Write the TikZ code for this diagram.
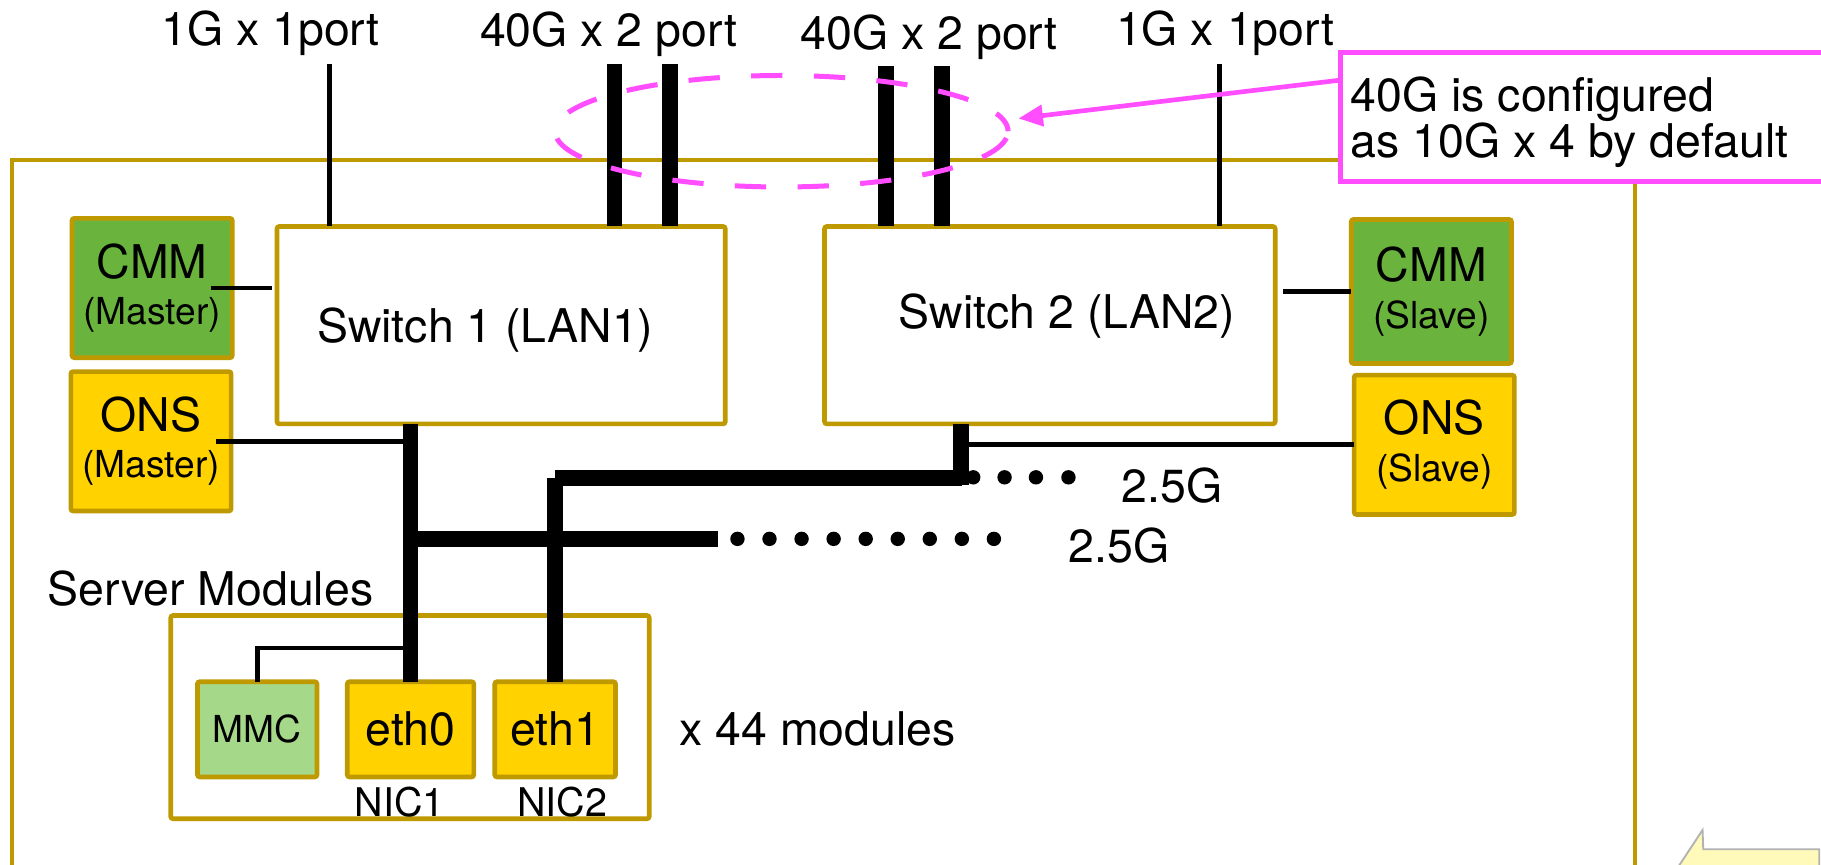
\documentclass[tikz,border=0pt]{standalone}
\usepackage{fontspec}
\setmainfont{TeX Gyre Heros}
\usetikzlibrary{shapes.geometric,arrows.meta}
\definecolor{gold}{RGB}{191,153,0}
\definecolor{cmmgreen}{RGB}{106,180,62}
\definecolor{onsyellow}{RGB}{255,210,0}
\definecolor{mmcgreen}{RGB}{166,216,138}
\definecolor{notepink}{RGB}{255,77,255}
\definecolor{paleyellow}{RGB}{255,250,185}
\begin{document}
\begin{tikzpicture}[x=0.5pt,y=-0.5pt,
  every node/.style={inner sep=0pt,outer sep=0pt},
  bigtxt/.style={font=\fontsize{20}{20}\selectfont},
  goldbox/.style={draw=gold,line width=2pt,rounded corners=1pt,align=center,bigtxt},
  switchbox/.style={goldbox,fill=white,minimum width=193pt,minimum height=85pt},
  cmmbox/.style={goldbox,fill=cmmgreen,minimum width=69pt,minimum height=60pt},
  onsbox/.style={goldbox,fill=onsyellow,minimum width=69pt,minimum height=60pt},
  nicbox/.style={goldbox,fill=onsyellow,minimum height=41pt},
  thinln/.style={line width=2.1pt},
  thickln/.style={line width=6.7pt},
  pinkln/.style={draw=notepink,line width=2.15pt},
]
\useasboundingbox (0,0) rectangle (1568,744);
\clip (0,0) rectangle (1568,744);
\fill[white] (0,0) rectangle (1568,744);

% outer chassis box
\draw[gold,line width=1.8pt] (10,800) -- (10,138) -- (1408,138) -- (1408,800);

% top labels
\node[bigtxt,anchor=base] (l1) at (233,39) {1G x 1port};
\node[bigtxt,anchor=base] (l2) at (524,40) {40G x 2 port};
\node[bigtxt,anchor=base] (l3) at (800,43) {40G x 2 port};
\node[bigtxt,anchor=base] (l4) at (1055,39.5) {1G x 1port};

% switches
\node[switchbox] (sw1) at (431.5,280) {};
\node[switchbox,minimum width=194pt] (sw2) at (904,280) {};
\node[bigtxt,anchor=base west] (sw1t) at (273,295) {Switch 1 (LAN1)};
\node[bigtxt,anchor=base west] (sw2t) at (774,283) {Switch 2 (LAN2)};

% CMM / ONS
\node[cmmbox] (cmm1) at (131,248) {CMM\\{\fontsize{16}{20}\selectfont (Master)}};
\node[onsbox] (ons1) at (130,380) {ONS\\{\fontsize{16}{20}\selectfont (Master)}};
\node[cmmbox,minimum height=62pt] (cmm2) at (1232.5,251) {CMM\\{\fontsize{16}{20}\selectfont (Slave)}};
\node[onsbox] (ons2) at (1235,383) {ONS\\{\fontsize{16}{20}\selectfont (Slave)}};

% server modules
\node[goldbox,minimum width=206pt,minimum height=87.5pt] (srv) at (353,617.5) {};
\node[bigtxt,anchor=base west] (srvt) at (41,521) {Server Modules};
\node[goldbox,fill=mmcgreen,minimum width=51.5pt,minimum height=41pt,font=\fontsize{16}{20}\selectfont] (mmc) at (221.5,628) {MMC};
\node[nicbox,minimum width=54.5pt] (eth0) at (353.5,628) {eth0};
\node[nicbox,minimum width=52pt] (eth1) at (478,628) {eth1};
\node[font=\fontsize{17}{20}\selectfont,anchor=base] (nic1) at (344,703) {NIC1};
\node[font=\fontsize{17}{20}\selectfont,anchor=base] (nic2) at (484,703) {NIC2};
\node[bigtxt,anchor=base west] (x44) at (585,641.5) {x 44 modules};

% uplinks
\coordinate (u1) at (284,55);
\coordinate (u2) at (529,55);
\coordinate (u3) at (577,55);
\coordinate (u4) at (763,57);
\coordinate (u5) at (811,57);
\coordinate (u6) at (1050,55);
\draw[thinln] (u1) -- (u1 |- sw1.north);
\draw[thickln] (u2) -- (u2 |- sw1.north);
\draw[thickln] (u3) -- (u3 |- sw1.north);
\draw[thickln] (u4) -- (u4 |- sw2.north);
\draw[thickln] (u5) -- (u5 |- sw2.north);
\draw[thinln] (u6) -- (u6 |- sw2.north);

% management links
\draw[thinln] ([xshift=-9pt]cmm1.east) -- ([xshift=-2pt]sw1.west |- cmm1.east);
\draw[thinln] ([xshift=3.5pt]sw2.east |- cmm2.west) -- (cmm2.west);

% switch 1 bus
\coordinate (b1) at (353.5,464);
\coordinate (b1end) at (618,464);
\coordinate (m1) at (353.5,558);
\draw[thickln] (sw1.south -| eth0.north) -- (eth0.north);
\draw[thickln] (b1) -- (b1end);
\draw[thinln] ([xshift=-6.5pt]ons1.east) -- (ons1.east -| eth0.north);
\draw[thinln] (mmc.north) |- (m1);
\foreach \i in {0,...,8} \fill (635+\i*27.6,464) circle (3.1pt);

% switch 2 bus
\coordinate (s2) at (827.5,365);
\coordinate (s2b) at (827.5,418);
\coordinate (b2r) at (828,411.5);
\coordinate (b2l) at (478,411.5);
\draw[thickln] (s2) -- (s2b);
\draw[thickln] (b2l) -- (b2r);
\draw[thickln] (b2l) -- (eth1.north);
\draw[thinln] (s2 |- ons2.west) -- (ons2.west);
\foreach \x in {838,865,892,920} \fill (\x,411) circle (3.1pt);

\node[bigtxt,anchor=base west] (r1) at (966,433) {2.5G};
\node[bigtxt,anchor=base west] (r2) at (920,484) {2.5G};

% note
\node[ellipse,pinkln,dash pattern=on 13.5pt off 13.5pt,dash phase=4pt,minimum width=195pt,minimum height=48pt] (ell) at (673,113) {};
\node[draw=notepink,fill=white,line width=2.2pt,minimum width=223pt,minimum height=55.5pt,anchor=north west] (note) at (1154,45) {};
\node[font=\fontsize{20}{19.7}\selectfont,anchor=base west] (notet) at (1163,96) {\vtop{\hbox{40G is configured}\hbox{as 10G x 4 by default}}};
\draw[pinkln,line width=2pt,-{Triangle[length=10.5pt,width=9pt]}] ([yshift=15.75pt]note.west) -- ([xshift=4.5pt,yshift=5.5pt]ell.east);

% partial shape at bottom right
\filldraw[fill=paleyellow,draw=black!30,line width=0.8pt] (1440,754) -- (1466,714.7) -- (1466.6,731.3) -- (1566.5,731.3) -- (1566.5,754);
\end{tikzpicture}
\end{document}
